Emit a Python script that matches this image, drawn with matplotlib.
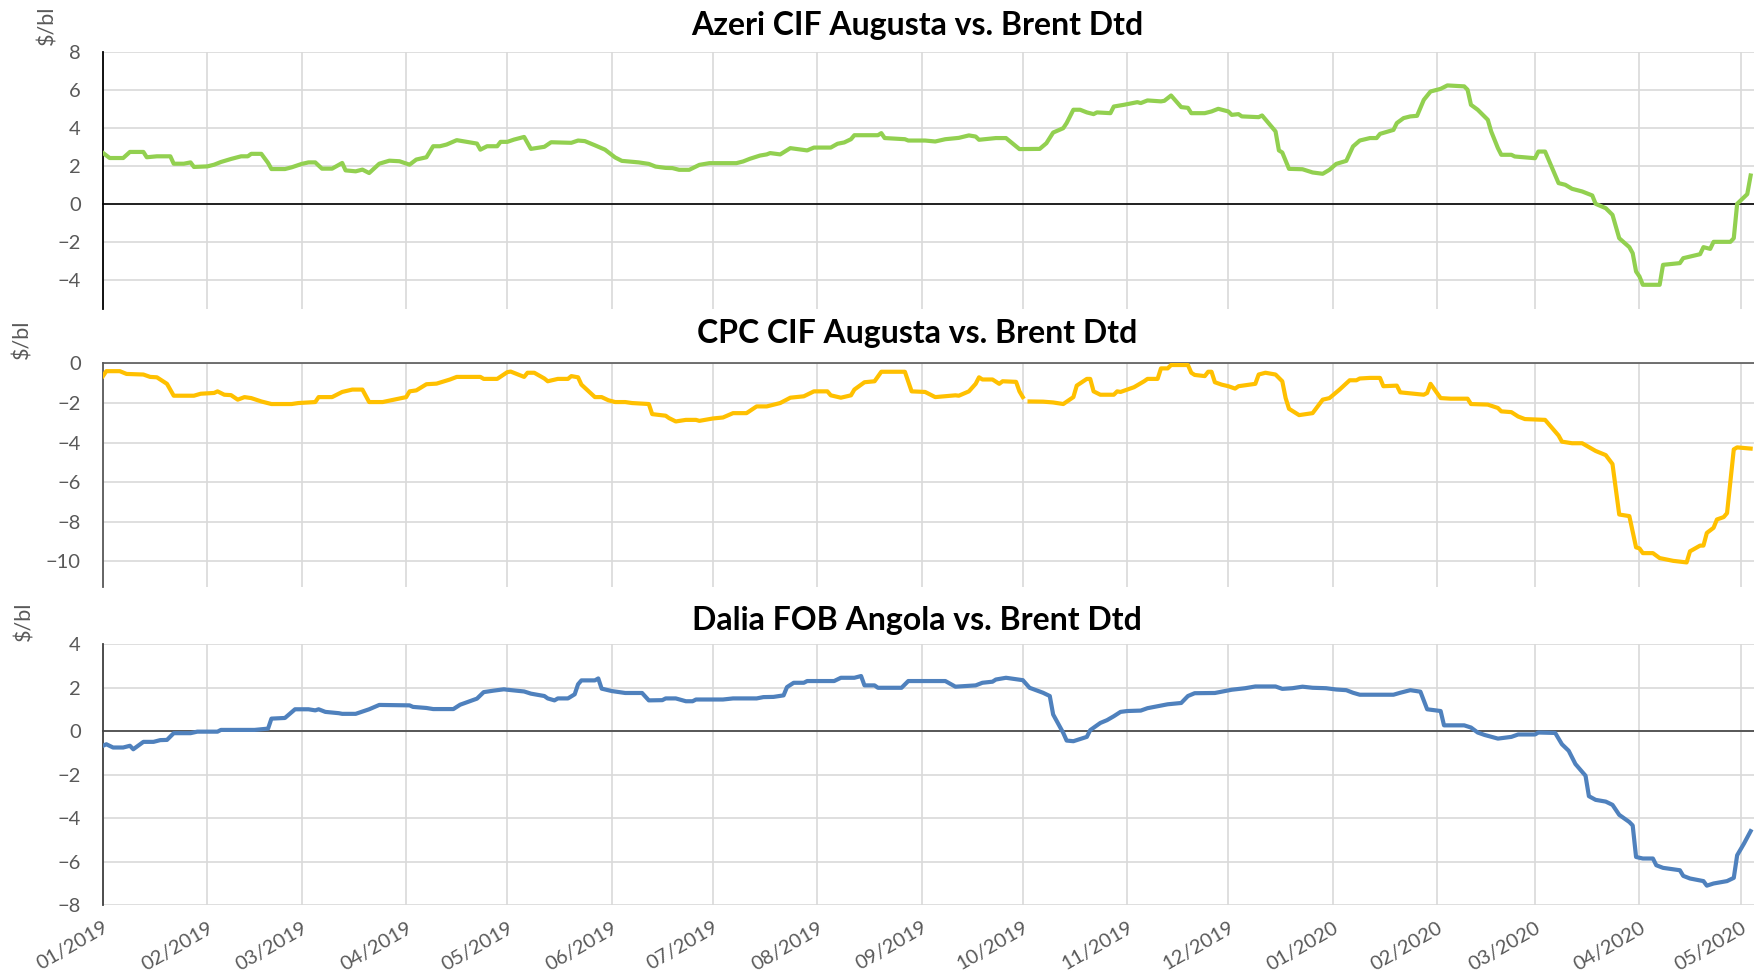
import matplotlib
matplotlib.use("Agg")
import matplotlib.pyplot as plt
import matplotlib.dates as mdates
import numpy as np
import pandas as pd

plt.rcParams['font.family'] = ['Lato', 'DejaVu Sans']

# Azeri CIF Augusta vs. Brent Dtd ($/bl)
azeri = [
    ("2019-01-01", 2.68), ("2019-01-03", 2.41), ("2019-01-07", 2.41), ("2019-01-09", 2.73),
    ("2019-01-13", 2.73), ("2019-01-14", 2.45), ("2019-01-17", 2.5), ("2019-01-21", 2.5),
    ("2019-01-22", 2.11), ("2019-01-25", 2.11), ("2019-01-27", 2.18), ("2019-01-28", 1.94),
    ("2019-02-01", 1.97), ("2019-02-03", 2.06), ("2019-02-05", 2.2), ("2019-02-08", 2.36),
    ("2019-02-11", 2.5), ("2019-02-13", 2.5), ("2019-02-14", 2.63), ("2019-02-17", 2.63),
    ("2019-02-19", 2.15), ("2019-02-20", 1.83), ("2019-02-24", 1.83), ("2019-02-26", 1.92),
    ("2019-03-01", 2.1), ("2019-03-03", 2.18), ("2019-03-05", 2.18), ("2019-03-07", 1.85),
    ("2019-03-10", 1.85), ("2019-03-13", 2.15), ("2019-03-14", 1.76), ("2019-03-17", 1.71),
    ("2019-03-19", 1.8), ("2019-03-21", 1.62), ("2019-03-24", 2.11), ("2019-03-27", 2.27),
    ("2019-03-30", 2.24), ("2019-04-02", 2.06), ("2019-04-04", 2.33), ("2019-04-07", 2.45),
    ("2019-04-09", 3.03), ("2019-04-11", 3.03), ("2019-04-13", 3.12), ("2019-04-16", 3.35),
    ("2019-04-19", 3.26), ("2019-04-22", 3.17), ("2019-04-23", 2.85), ("2019-04-25", 3.03),
    ("2019-04-28", 3.03), ("2019-04-29", 3.26), ("2019-05-01", 3.26), ("2019-05-03", 3.38),
    ("2019-05-06", 3.52), ("2019-05-08", 2.89), ("2019-05-12", 3.0), ("2019-05-14", 3.24),
    ("2019-05-20", 3.21), ("2019-05-22", 3.33), ("2019-05-24", 3.3), ("2019-05-27", 3.08),
    ("2019-05-30", 2.85), ("2019-06-02", 2.44), ("2019-06-04", 2.26), ("2019-06-09", 2.18),
    ("2019-06-12", 2.1), ("2019-06-14", 1.96), ("2019-06-17", 1.89), ("2019-06-19", 1.88),
    ("2019-06-21", 1.79), ("2019-06-24", 1.79), ("2019-06-27", 2.05), ("2019-06-30", 2.14),
    ("2019-07-08", 2.14), ("2019-07-10", 2.23), ("2019-07-12", 2.37), ("2019-07-15", 2.54),
    ("2019-07-17", 2.6), ("2019-07-18", 2.67), ("2019-07-21", 2.6), ("2019-07-24", 2.93),
    ("2019-07-29", 2.81), ("2019-07-31", 2.96), ("2019-08-05", 2.96), ("2019-08-07", 3.16),
    ("2019-08-09", 3.23), ("2019-08-11", 3.4), ("2019-08-12", 3.61), ("2019-08-19", 3.61),
    ("2019-08-20", 3.72), ("2019-08-21", 3.46), ("2019-08-27", 3.4), ("2019-08-28", 3.33),
    ("2019-09-02", 3.33), ("2019-09-05", 3.28), ("2019-09-08", 3.4), ("2019-09-12", 3.47),
    ("2019-09-15", 3.6), ("2019-09-17", 3.54), ("2019-09-18", 3.37), ("2019-09-23", 3.46),
    ("2019-09-26", 3.46), ("2019-09-30", 2.88), ("2019-10-06", 2.89), ("2019-10-08", 3.19),
    ("2019-10-10", 3.75), ("2019-10-13", 3.98), ("2019-10-14", 4.25), ("2019-10-16", 4.95),
    ("2019-10-18", 4.95), ("2019-10-20", 4.81), ("2019-10-22", 4.72), ("2019-10-23", 4.81),
    ("2019-10-27", 4.77), ("2019-10-28", 5.12), ("2019-10-31", 5.21), ("2019-11-04", 5.35),
    ("2019-11-05", 5.3), ("2019-11-07", 5.44), ("2019-11-11", 5.39), ("2019-11-12", 5.42),
    ("2019-11-14", 5.7), ("2019-11-17", 5.09), ("2019-11-19", 5.05), ("2019-11-20", 4.77),
    ("2019-11-24", 4.77), ("2019-11-26", 4.86), ("2019-11-28", 5.0), ("2019-12-01", 4.86),
    ("2019-12-02", 4.68), ("2019-12-04", 4.72), ("2019-12-05", 4.6), ("2019-12-10", 4.56),
    ("2019-12-11", 4.65), ("2019-12-15", 3.81), ("2019-12-16", 2.81), ("2019-12-17", 2.7),
    ("2019-12-19", 1.84), ("2019-12-23", 1.82), ("2019-12-26", 1.65), ("2019-12-29", 1.58),
    ("2019-12-31", 1.79), ("2020-01-02", 2.1), ("2020-01-05", 2.26), ("2020-01-07", 3.02),
    ("2020-01-09", 3.33), ("2020-01-12", 3.46), ("2020-01-14", 3.46), ("2020-01-15", 3.68),
    ("2020-01-19", 3.89), ("2020-01-20", 4.25), ("2020-01-22", 4.51), ("2020-01-24", 4.6),
    ("2020-01-26", 4.63), ("2020-01-28", 5.47), ("2020-01-30", 5.91), ("2020-02-02", 6.05),
    ("2020-02-04", 6.23), ("2020-02-09", 6.18), ("2020-02-10", 6.0), ("2020-02-11", 5.21),
    ("2020-02-13", 4.95), ("2020-02-16", 4.42), ("2020-02-17", 3.81), ("2020-02-19", 2.93),
    ("2020-02-20", 2.58), ("2020-02-23", 2.58), ("2020-02-24", 2.49), ("2020-03-01", 2.4),
    ("2020-03-02", 2.75), ("2020-03-04", 2.75), ("2020-03-08", 1.09), ("2020-03-10", 1.0),
    ("2020-03-12", 0.79), ("2020-03-15", 0.65), ("2020-03-18", 0.44), ("2020-03-19", 0.0),
    ("2020-03-22", -0.23), ("2020-03-24", -0.58), ("2020-03-26", -1.81), ("2020-03-29", -2.28),
    ("2020-03-30", -2.6), ("2020-03-31", -3.56), ("2020-04-01", -3.82), ("2020-04-02", -4.26),
    ("2020-04-07", -4.26), ("2020-04-08", -3.21), ("2020-04-13", -3.12), ("2020-04-14", -2.86),
    ("2020-04-19", -2.65), ("2020-04-20", -2.28), ("2020-04-22", -2.37), ("2020-04-23", -2.0),
    ("2020-04-28", -2.0), ("2020-04-29", -1.81), ("2020-04-30", 0.0), ("2020-05-03", 0.51),
    ("2020-05-04", 1.49),
]

# CPC CIF Augusta vs. Brent Dtd ($/bl), None = missing quote
cpc = [
    ("2019-01-01", -0.64), ("2019-01-02", -0.39), ("2019-01-06", -0.39), ("2019-01-08", -0.53),
    ("2019-01-13", -0.56), ("2019-01-15", -0.68), ("2019-01-17", -0.7), ("2019-01-20", -1.03),
    ("2019-01-22", -1.63), ("2019-01-28", -1.63), ("2019-01-30", -1.53), ("2019-02-03", -1.49),
    ("2019-02-04", -1.41), ("2019-02-06", -1.58), ("2019-02-08", -1.6), ("2019-02-10", -1.83),
    ("2019-02-12", -1.7), ("2019-02-14", -1.75), ("2019-02-17", -1.92), ("2019-02-20", -2.05),
    ("2019-02-26", -2.05), ("2019-02-28", -2.0), ("2019-03-05", -1.95), ("2019-03-06", -1.7),
    ("2019-03-10", -1.7), ("2019-03-13", -1.44), ("2019-03-16", -1.32), ("2019-03-19", -1.32),
    ("2019-03-21", -1.95), ("2019-03-25", -1.95), ("2019-03-27", -1.88), ("2019-04-01", -1.7),
    ("2019-04-02", -1.41), ("2019-04-04", -1.36), ("2019-04-07", -1.05), ("2019-04-10", -1.02),
    ("2019-04-14", -0.81), ("2019-04-16", -0.68), ("2019-04-23", -0.68), ("2019-04-24", -0.78),
    ("2019-04-28", -0.78), ("2019-05-01", -0.44), ("2019-05-02", -0.41), ("2019-05-06", -0.68),
    ("2019-05-07", -0.47), ("2019-05-09", -0.47), ("2019-05-12", -0.76), ("2019-05-13", -0.9),
    ("2019-05-16", -0.78), ("2019-05-19", -0.78), ("2019-05-20", -0.64), ("2019-05-22", -0.7),
    ("2019-05-23", -1.07), ("2019-05-27", -1.7), ("2019-05-29", -1.7), ("2019-05-31", -1.86),
    ("2019-06-02", -1.95), ("2019-06-05", -1.95), ("2019-06-07", -2.0), ("2019-06-12", -2.05),
    ("2019-06-13", -2.56), ("2019-06-17", -2.64), ("2019-06-18", -2.76), ("2019-06-20", -2.93),
    ("2019-06-23", -2.85), ("2019-06-26", -2.85), ("2019-06-27", -2.9), ("2019-07-01", -2.78),
    ("2019-07-04", -2.73), ("2019-07-07", -2.51), ("2019-07-11", -2.51), ("2019-07-14", -2.17),
    ("2019-07-17", -2.17), ("2019-07-21", -2.0), ("2019-07-24", -1.73), ("2019-07-28", -1.66),
    ("2019-07-31", -1.41), ("2019-08-04", -1.41), ("2019-08-05", -1.61), ("2019-08-08", -1.73),
    ("2019-08-11", -1.61), ("2019-08-12", -1.32), ("2019-08-15", -0.95), ("2019-08-18", -0.9),
    ("2019-08-20", -0.42), ("2019-08-27", -0.42), ("2019-08-29", -1.41), ("2019-09-02", -1.44),
    ("2019-09-05", -1.7), ("2019-09-11", -1.61), ("2019-09-12", -1.63), ("2019-09-15", -1.41),
    ("2019-09-17", -1.03), ("2019-09-18", -0.7), ("2019-09-19", -0.81), ("2019-09-22", -0.81),
    ("2019-09-24", -1.03), ("2019-09-25", -0.9), ("2019-09-29", -0.93), ("2019-09-30", -1.41),
    ("2019-10-01", -1.7), ("2019-10-02", None), ("2019-10-03", -1.92), ("2019-10-07", -1.93),
    ("2019-10-10", -1.97), ("2019-10-13", -2.05), ("2019-10-16", -1.7), ("2019-10-17", -1.12),
    ("2019-10-20", -0.78), ("2019-10-21", -0.78), ("2019-10-22", -1.41), ("2019-10-24", -1.58),
    ("2019-10-28", -1.58), ("2019-10-29", -1.41), ("2019-10-30", -1.44), ("2019-11-03", -1.2),
    ("2019-11-06", -0.9), ("2019-11-07", -0.78), ("2019-11-10", -0.78), ("2019-11-11", -0.25),
    ("2019-11-13", -0.25), ("2019-11-14", -0.08), ("2019-11-19", -0.08), ("2019-11-20", -0.47),
    ("2019-11-21", -0.58), ("2019-11-24", -0.64), ("2019-11-25", -0.42), ("2019-11-26", -0.42),
    ("2019-11-27", -0.95), ("2019-11-29", -1.07), ("2019-12-01", -1.15), ("2019-12-03", -1.27),
    ("2019-12-04", -1.15), ("2019-12-09", -1.03), ("2019-12-10", -0.56), ("2019-12-12", -0.47),
    ("2019-12-15", -0.56), ("2019-12-17", -0.9), ("2019-12-18", -1.75), ("2019-12-19", -2.29),
    ("2019-12-22", -2.61), ("2019-12-26", -2.51), ("2019-12-29", -1.83), ("2019-12-31", -1.75),
    ("2020-01-03", -1.32), ("2020-01-06", -0.85), ("2020-01-08", -0.85), ("2020-01-09", -0.76),
    ("2020-01-12", -0.73), ("2020-01-15", -0.73), ("2020-01-16", -1.15), ("2020-01-20", -1.12),
    ("2020-01-21", -1.46), ("2020-01-28", -1.58), ("2020-01-29", -1.49), ("2020-01-30", -1.03),
    ("2020-02-02", -1.75), ("2020-02-05", -1.78), ("2020-02-10", -1.78), ("2020-02-11", -2.05),
    ("2020-02-16", -2.08), ("2020-02-19", -2.25), ("2020-02-20", -2.42), ("2020-02-23", -2.46),
    ("2020-02-25", -2.68), ("2020-02-27", -2.81), ("2020-03-04", -2.85), ("2020-03-08", -3.64),
    ("2020-03-09", -3.95), ("2020-03-12", -4.03), ("2020-03-15", -4.03), ("2020-03-19", -4.42),
    ("2020-03-22", -4.63), ("2020-03-24", -5.08), ("2020-03-26", -7.63), ("2020-03-29", -7.71),
    ("2020-03-31", -9.29), ("2020-04-01", -9.34), ("2020-04-02", -9.58), ("2020-04-05", -9.58),
    ("2020-04-07", -9.83), ("2020-04-11", -9.97), ("2020-04-15", -10.05), ("2020-04-16", -9.49),
    ("2020-04-19", -9.2), ("2020-04-20", -9.2), ("2020-04-21", -8.56), ("2020-04-23", -8.3),
    ("2020-04-24", -7.88), ("2020-04-26", -7.76), ("2020-04-27", -7.56), ("2020-04-29", -4.34),
    ("2020-04-30", -4.24), ("2020-05-04", -4.3),
]

# Dalia FOB Angola vs. Brent Dtd ($/bl)
dalia = [
    ("2019-01-01", -0.67), ("2019-01-02", -0.6), ("2019-01-04", -0.75), ("2019-01-07", -0.75),
    ("2019-01-09", -0.67), ("2019-01-10", -0.83), ("2019-01-13", -0.49), ("2019-01-16", -0.49),
    ("2019-01-18", -0.41), ("2019-01-20", -0.4), ("2019-01-22", -0.09), ("2019-01-27", -0.09),
    ("2019-01-29", -0.02), ("2019-02-04", -0.02), ("2019-02-05", 0.06), ("2019-02-15", 0.06),
    ("2019-02-19", 0.12), ("2019-02-20", 0.58), ("2019-02-24", 0.61), ("2019-02-27", 1.01),
    ("2019-03-03", 1.01), ("2019-03-05", 0.96), ("2019-03-06", 1.01), ("2019-03-08", 0.89),
    ("2019-03-12", 0.83), ("2019-03-13", 0.8), ("2019-03-17", 0.8), ("2019-03-21", 1.01),
    ("2019-03-24", 1.21), ("2019-04-02", 1.19), ("2019-04-03", 1.12), ("2019-04-07", 1.07),
    ("2019-04-09", 1.02), ("2019-04-15", 1.02), ("2019-04-17", 1.22), ("2019-04-22", 1.5),
    ("2019-04-24", 1.8), ("2019-04-27", 1.87), ("2019-04-30", 1.93), ("2019-05-01", 1.91),
    ("2019-05-06", 1.83), ("2019-05-08", 1.73), ("2019-05-12", 1.62), ("2019-05-13", 1.51),
    ("2019-05-15", 1.42), ("2019-05-16", 1.51), ("2019-05-19", 1.51), ("2019-05-21", 1.7),
    ("2019-05-22", 2.16), ("2019-05-23", 2.34), ("2019-05-27", 2.34), ("2019-05-28", 2.43),
    ("2019-05-29", 1.96), ("2019-06-01", 1.85), ("2019-06-05", 1.76), ("2019-06-10", 1.76),
    ("2019-06-12", 1.42), ("2019-06-16", 1.43), ("2019-06-17", 1.51), ("2019-06-20", 1.51),
    ("2019-06-23", 1.38), ("2019-06-25", 1.38), ("2019-06-26", 1.46), ("2019-07-04", 1.46),
    ("2019-07-07", 1.51), ("2019-07-14", 1.51), ("2019-07-16", 1.57), ("2019-07-19", 1.58),
    ("2019-07-22", 1.65), ("2019-07-23", 2.03), ("2019-07-25", 2.23), ("2019-07-28", 2.23),
    ("2019-07-29", 2.31), ("2019-08-06", 2.31), ("2019-08-08", 2.46), ("2019-08-12", 2.46),
    ("2019-08-14", 2.54), ("2019-08-15", 2.11), ("2019-08-18", 2.11), ("2019-08-19", 2.0),
    ("2019-08-26", 2.0), ("2019-08-28", 2.31), ("2019-09-08", 2.31), ("2019-09-11", 2.05),
    ("2019-09-17", 2.11), ("2019-09-19", 2.23), ("2019-09-22", 2.28), ("2019-09-23", 2.38),
    ("2019-09-26", 2.46), ("2019-10-01", 2.35), ("2019-10-03", 2.0), ("2019-10-07", 1.77),
    ("2019-10-09", 1.62), ("2019-10-10", 0.77), ("2019-10-13", -0.08), ("2019-10-14", -0.43),
    ("2019-10-16", -0.46), ("2019-10-20", -0.26), ("2019-10-21", 0.05), ("2019-10-24", 0.38),
    ("2019-10-26", 0.51), ("2019-10-28", 0.69), ("2019-10-30", 0.89), ("2019-11-01", 0.93),
    ("2019-11-05", 0.95), ("2019-11-07", 1.06), ("2019-11-11", 1.18), ("2019-11-13", 1.24),
    ("2019-11-17", 1.3), ("2019-11-19", 1.62), ("2019-11-21", 1.75), ("2019-11-27", 1.76),
    ("2019-11-30", 1.85), ("2019-12-02", 1.91), ("2019-12-06", 1.98), ("2019-12-09", 2.06),
    ("2019-12-15", 2.06), ("2019-12-17", 1.95), ("2019-12-20", 1.98), ("2019-12-23", 2.05),
    ("2019-12-26", 2.0), ("2019-12-30", 1.98), ("2020-01-02", 1.92), ("2020-01-05", 1.89),
    ("2020-01-07", 1.77), ("2020-01-09", 1.68), ("2020-01-19", 1.68), ("2020-01-21", 1.77),
    ("2020-01-24", 1.89), ("2020-01-27", 1.82), ("2020-01-29", 1.01), ("2020-02-02", 0.93),
    ("2020-02-03", 0.27), ("2020-02-09", 0.27), ("2020-02-11", 0.17), ("2020-02-13", -0.06),
    ("2020-02-15", -0.17), ("2020-02-19", -0.34), ("2020-02-23", -0.26), ("2020-02-25", -0.15),
    ("2020-03-01", -0.15), ("2020-03-02", -0.06), ("2020-03-07", -0.08), ("2020-03-09", -0.6),
    ("2020-03-11", -0.9), ("2020-03-13", -1.51), ("2020-03-16", -2.05), ("2020-03-17", -2.99),
    ("2020-03-19", -3.16), ("2020-03-22", -3.24), ("2020-03-24", -3.39), ("2020-03-26", -3.85),
    ("2020-03-29", -4.18), ("2020-03-30", -4.34), ("2020-03-31", -5.79), ("2020-04-02", -5.86),
    ("2020-04-05", -5.86), ("2020-04-06", -6.17), ("2020-04-08", -6.29), ("2020-04-13", -6.4),
    ("2020-04-14", -6.66), ("2020-04-16", -6.78), ("2020-04-20", -6.9), ("2020-04-21", -7.11),
    ("2020-04-23", -7.01), ("2020-04-27", -6.9), ("2020-04-29", -6.75), ("2020-04-30", -5.71),
    ("2020-05-02", -5.18), ("2020-05-04", -4.6),
]

titles = ["Azeri CIF Augusta vs. Brent Dtd", "CPC CIF Augusta vs. Brent Dtd",
          "Dalia FOB Angola vs. Brent Dtd"]
colors = ["#92D050", "#FFC000", "#4F81BD"]
y_ticks = [[-4, -2, 0, 2, 4, 6, 8], [-10, -8, -6, -4, -2, 0], [-8, -6, -4, -2, 0, 2, 4]]
y_lims = [(-5.52, 8), (-11.3, 0), (-8, 4)]
month_ticks = pd.date_range("2019-01-01", "2020-05-01", freq="MS")
x_start, x_end = pd.Timestamp("2019-01-01"), pd.Timestamp("2020-05-05")


def to_frame(pairs):
    df = pd.DataFrame(pairs, columns=["date", "value"])
    df["date"] = pd.to_datetime(df["date"])
    df["value"] = df["value"].astype(float)
    return df


series = [to_frame(azeri), to_frame(cpc), to_frame(dalia)]

fig = plt.figure(figsize=(17.54, 9.77), dpi=100)
# axes boxes [left, bottom, width, height] in figure fraction
boxes = [[0.0587, 0.684, 0.9413, 0.263],
         [0.0587, 0.399, 0.9413, 0.229],
         [0.0587, 0.0737, 0.9413, 0.2668]]
spine_cols = ["#000000", "#595959", "#404040"]
zero_cols = ["#000000", "#595959", "#404040"]
title_y = [0.964, 0.6493, 0.355]
ylab_pos = [(0.0268, 0.994), (0.0128, 0.673), (0.014, 0.384)]

for i in range(3):
    ax = fig.add_axes(boxes[i])
    df = series[i]
    ax.plot(df["date"], df["value"], color=colors[i], lw=3.0, solid_joinstyle="round", zorder=3)
    ax.set_xlim(x_start, x_end)
    ax.set_ylim(*y_lims[i])
    ax.set_yticks(y_ticks[i])
    ax.set_xticks(month_ticks)
    ax.grid(True, color="#D9D9D9", lw=1.2, zorder=0)
    ax.axhline(0, color=zero_cols[i], lw=1.2, zorder=2, clip_on=False)
    for s in ["top", "right", "bottom"]:
        ax.spines[s].set_visible(False)
    ax.spines["left"].set_color(spine_cols[i])
    ax.spines["left"].set_linewidth(1.3)
    ax.tick_params(axis="both", length=0, labelsize=14.5, labelcolor="#595959", pad=16)
    if i < 2:
        ax.tick_params(axis="x", labelbottom=False)
    else:
        ax.xaxis.set_major_formatter(mdates.DateFormatter("%m/%Y"))
        ax.tick_params(axis="x", pad=10, labelsize=14.5)
        for lab in ax.get_xticklabels():
            lab.set_rotation(30)
            lab.set_ha("right")
            lab.set_va("top")
            lab.set_rotation_mode("anchor")
    fig.text(0.523, title_y[i], titles[i], ha="center", va="baseline",
             fontsize=23, fontweight="bold", color="black")
    fig.text(ylab_pos[i][0], ylab_pos[i][1], "$/bl", rotation=90, ha="center", va="top",
             fontsize=15.5, color="#595959")

fig.savefig("out.png", dpi=100)
